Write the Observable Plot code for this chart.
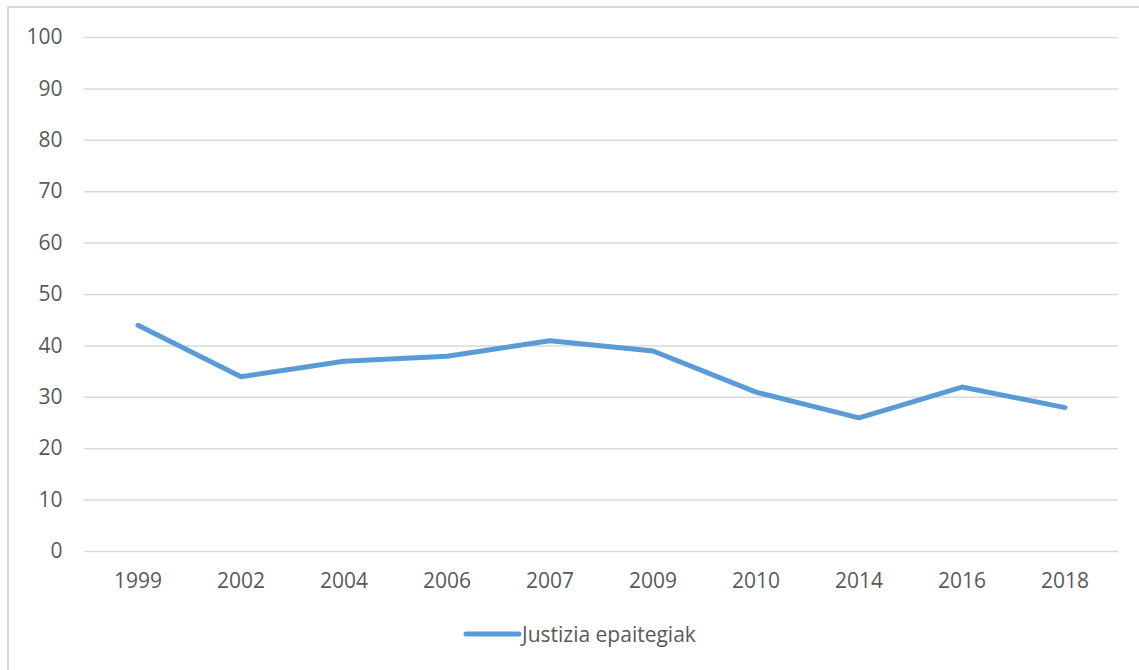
<!DOCTYPE html>
<html>
<head>
<meta charset="utf-8">
<script src="https://cdn.jsdelivr.net/npm/d3@7"></script>
<script src="https://cdn.jsdelivr.net/npm/@observablehq/plot@0.6"></script>
<style>
  body { margin: 0; background: #fff; font-family: "Open Sans", "Liberation Sans", sans-serif; }
  #wrap { position: relative; width: 1139px; height: 670px; overflow: hidden; }
  #frame { position: absolute; left: 7px; top: 6px; width: 1140px; height: 670px; border: 2px solid #d9d9d9; box-sizing: border-box; pointer-events: none; }
  #chart { position: absolute; left: 0; top: 0; }
  #legend { position: absolute; left: 463px; top: 620px; display: flex; align-items: center; color: #595959; font-size: 21px; }
  #legend svg { display: block; }
</style>
</head>
<body>
<div id="wrap">
  <div id="chart"></div>
  <div id="frame"></div>
  <div id="legend"></div>
</div>
<script>
const years = ["1999", "2002", "2004", "2006", "2007", "2009", "2010", "2014", "2016", "2018"];
const values = [44, 34, 37, 38, 41, 39, 31, 26, 32, 28];
const yTicks = [0, 10, 20, 30, 40, 50, 60, 70, 80, 90, 100];
const seriesName = "Justizia epaitegiak";

const data = years.map((y, i) => ({year: y, value: values[i]}));

const chart = Plot.plot({
  width: 1139,
  height: 615,
  marginTop: 37,
  marginBottom: 64,
  marginLeft: 84,
  marginRight: 21,
  style: {fontFamily: '"Open Sans", "Liberation Sans", sans-serif', fontSize: "21px", color: "#595959", background: "transparent"},
  x: {type: "band", domain: years, label: null, padding: 0},
  y: {domain: [0, 100], ticks: yTicks, label: null},
  marks: [
    Plot.gridY(yTicks, {stroke: "#d9d9d9", strokeOpacity: 1, strokeWidth: 1.5}),
    Plot.axisY({ticks: yTicks, tickSize: 0, tickPadding: 22, label: null, fill: "#595959", fontSize: 21}),
    Plot.axisX({tickSize: 0, tickPadding: 22, label: null, fill: "#595959", fontSize: 21}),
    Plot.line(data, {x: "year", y: "value", stroke: "#5b9bd5", strokeWidth: 5, strokeLinecap: "round", strokeLinejoin: "round"})
  ]
});
document.getElementById("chart").appendChild(chart);

const legend = document.getElementById("legend");
legend.innerHTML = `<svg width="59" height="10"><line x1="3" y1="5" x2="56" y2="5" stroke="#5b9bd5" stroke-width="5" stroke-linecap="round"/></svg><span>${seriesName}</span>`;
</script>
</body>
</html>
